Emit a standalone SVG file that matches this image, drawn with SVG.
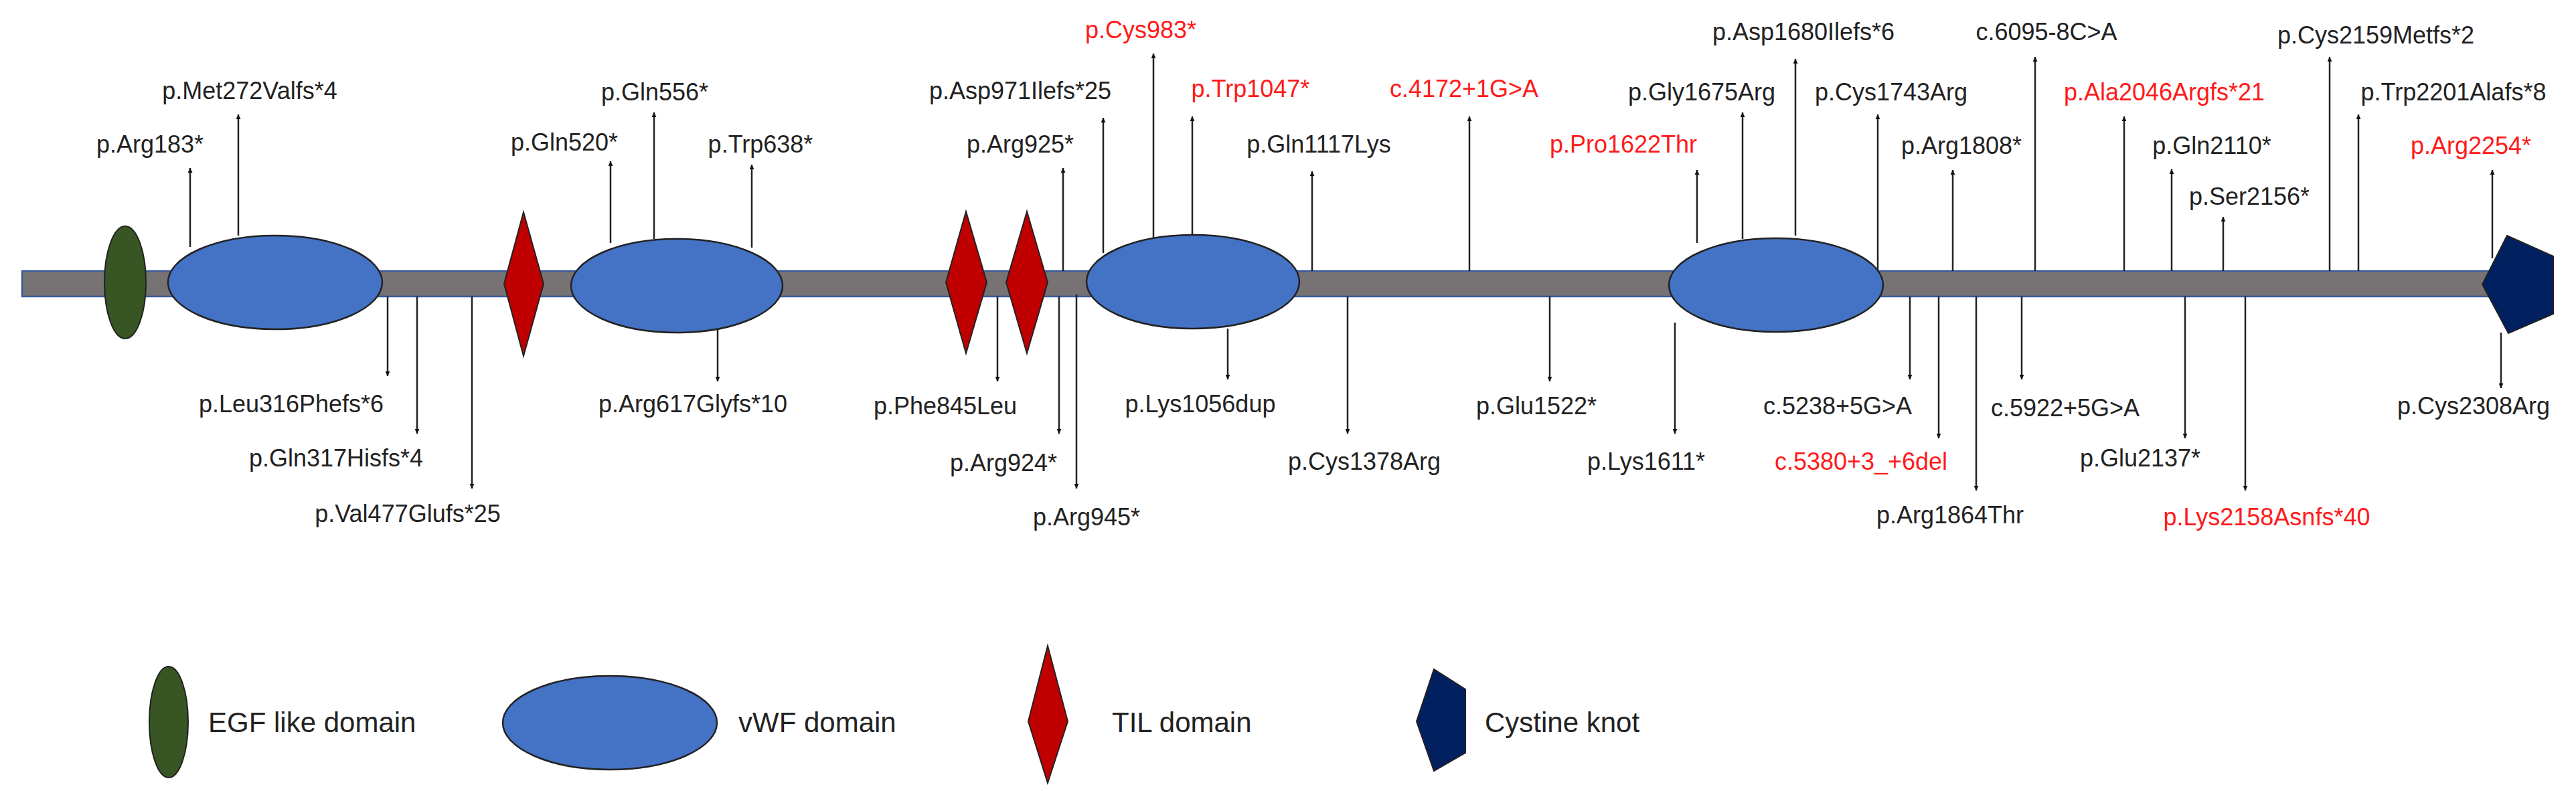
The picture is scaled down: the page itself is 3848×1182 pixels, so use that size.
<svg xmlns="http://www.w3.org/2000/svg" width="3848" height="1182" viewBox="0 0 3848 1182">
<style>
text{font-family:"Liberation Sans",Arial,sans-serif;font-size:36px;fill:#222;text-anchor:middle}
.r{fill:#ff1a1a}
.lg{font-size:42px;text-anchor:start}
.c line{stroke:#222;stroke-width:2.5;marker-end:url(#a)}
.egf{fill:#375623;stroke:#222;stroke-width:2}
.vwf{fill:#4472c4;stroke:#222;stroke-width:2.5}
.til{fill:#c00000;stroke:#222;stroke-width:2}
.ck{fill:#002060;stroke:#222;stroke-width:2}
</style>
<defs><marker id="a" viewBox="0 0 10 10" refX="10" refY="5" markerWidth="7" markerHeight="7" markerUnits="userSpaceOnUse" orient="auto"><path d="M0,0L10,5L0,10z" fill="#111"/></marker></defs>
<marker id="b"/>
<g id="bar"><rect x="33" y="405" width="3700" height="38" fill="#777374" stroke="#3a5a99" stroke-width="2.5"/></g>
<g class="c" id="connectors">
<line x1="284" y1="369" x2="284" y2="251"/>
<line x1="356" y1="352" x2="356" y2="171"/>
<line x1="912" y1="363" x2="912" y2="241"/>
<line x1="977" y1="357" x2="977" y2="168"/>
<line x1="1123" y1="370" x2="1123" y2="246"/>
<line x1="579" y1="443" x2="579" y2="562"/>
<line x1="623" y1="443" x2="623" y2="648"/>
<line x1="705" y1="443" x2="705" y2="730"/>
<line x1="1072" y1="492" x2="1072" y2="570"/>
<line x1="1588" y1="405" x2="1588" y2="251"/>
<line x1="1648" y1="378" x2="1648" y2="176"/>
<line x1="1723" y1="357" x2="1723" y2="80"/>
<line x1="1781" y1="351" x2="1781" y2="174"/>
<line x1="1960" y1="405" x2="1960" y2="256"/>
<line x1="2195" y1="405" x2="2195" y2="174"/>
<line x1="2535" y1="363" x2="2535" y2="254"/>
<line x1="1490" y1="443" x2="1490" y2="570"/>
<line x1="1582" y1="443" x2="1582" y2="648"/>
<line x1="1608" y1="440" x2="1608" y2="730"/>
<line x1="1834" y1="491" x2="1834" y2="567"/>
<line x1="2013" y1="443" x2="2013" y2="648"/>
<line x1="2315" y1="443" x2="2315" y2="570"/>
<line x1="2502" y1="482" x2="2502" y2="648"/>
<line x1="2603" y1="357" x2="2603" y2="168"/>
<line x1="2682" y1="352" x2="2682" y2="88"/>
<line x1="2805" y1="404" x2="2805" y2="171"/>
<line x1="2917" y1="405" x2="2917" y2="254"/>
<line x1="3040" y1="405" x2="3040" y2="85"/>
<line x1="3173" y1="405" x2="3173" y2="174"/>
<line x1="3244" y1="405" x2="3244" y2="253"/>
<line x1="3321" y1="405" x2="3321" y2="324"/>
<line x1="3480" y1="405" x2="3480" y2="85"/>
<line x1="3523" y1="405" x2="3523" y2="171"/>
<line x1="3723" y1="386" x2="3723" y2="254"/>
<line x1="2853" y1="443" x2="2853" y2="567"/>
<line x1="2896" y1="443" x2="2896" y2="655"/>
<line x1="2952" y1="443" x2="2952" y2="733"/>
<line x1="3020" y1="443" x2="3020" y2="567"/>
<line x1="3264" y1="443" x2="3264" y2="655"/>
<line x1="3354" y1="443" x2="3354" y2="733"/>
<line x1="3736" y1="497" x2="3736" y2="580"/>
</g>
<g id="egf1"><ellipse class="egf" cx="187" cy="422" rx="31" ry="84"/></g>
<g id="vwf1"><ellipse class="vwf" cx="411" cy="422" rx="160" ry="70"/></g>
<g id="til1"><polygon class="til" points="782,317 812,424 782,532 753,424"/></g>
<g id="vwf2"><ellipse class="vwf" cx="1011" cy="427" rx="158" ry="70"/></g>
<g id="til2"><polygon class="til" points="1443,316 1474,422 1443,528 1413,422"/></g>
<g id="til3"><polygon class="til" points="1534,316 1565,422 1534,528 1503,422"/></g>
<g id="vwf3"><ellipse class="vwf" cx="1782" cy="421" rx="159" ry="70"/></g>
<g id="vwf4"><ellipse class="vwf" cx="2653" cy="426" rx="160" ry="70"/></g>
<g id="ck1"><polygon class="ck" points="3708,425 3745,352 3814,383 3814,469 3747,498"/></g>
<g id="labels">
<text x="224" y="228">p.Arg183*</text>
<text x="373" y="148">p.Met272Valfs*4</text>
<text x="843" y="225">p.Gln520*</text>
<text x="978" y="150">p.Gln556*</text>
<text x="1136" y="228">p.Trp638*</text>
<text x="435" y="616">p.Leu316Phefs*6</text>
<text x="502" y="697">p.Gln317Hisfs*4</text>
<text x="609" y="780">p.Val477Glufs*25</text>
<text x="1035" y="616">p.Arg617Glyfs*10</text>
<text x="1524" y="228">p.Arg925*</text>
<text x="1524" y="148">p.Asp971Ilefs*25</text>
<text class="r" x="1704" y="57">p.Cys983*</text>
<text class="r" x="1868" y="145">p.Trp1047*</text>
<text x="1970" y="228">p.Gln1117Lys</text>
<text class="r" x="2187" y="145">c.4172+1G&gt;A</text>
<text class="r" x="2425" y="228">p.Pro1622Thr</text>
<text x="1412" y="619">p.Phe845Leu</text>
<text x="1499" y="704">p.Arg924*</text>
<text x="1623" y="785">p.Arg945*</text>
<text x="1793" y="616">p.Lys1056dup</text>
<text x="2038" y="702">p.Cys1378Arg</text>
<text x="2295" y="619">p.Glu1522*</text>
<text x="2459" y="702">p.Lys1611*</text>
<text x="2542" y="150">p.Gly1675Arg</text>
<text x="2694" y="60">p.Asp1680Ilefs*6</text>
<text x="2825" y="150">p.Cys1743Arg</text>
<text x="2930" y="230">p.Arg1808*</text>
<text x="3057" y="60">c.6095-8C&gt;A</text>
<text class="r" x="3233" y="150">p.Ala2046Argfs*21</text>
<text x="3304" y="230">p.Gln2110*</text>
<text x="3360" y="306">p.Ser2156*</text>
<text x="3549" y="65">p.Cys2159Metfs*2</text>
<text x="3665" y="150">p.Trp2201Alafs*8</text>
<text class="r" x="3691" y="230">p.Arg2254*</text>
<text x="2745" y="619">c.5238+5G&gt;A</text>
<text class="r" x="2780" y="702">c.5380+3_+6del</text>
<text x="2913" y="782">p.Arg1864Thr</text>
<text x="3085" y="622">c.5922+5G&gt;A</text>
<text x="3197" y="697">p.Glu2137*</text>
<text class="r" x="3386" y="785">p.Lys2158Asnfs*40</text>
<text x="3695" y="619">p.Cys2308Arg</text>
</g>
<g id="legend">
<ellipse class="egf" cx="252" cy="1079" rx="29" ry="83"/>
<text class="lg" x="311" y="1094">EGF like domain</text>
<ellipse class="vwf" cx="911" cy="1080" rx="160" ry="70"/>
<text class="lg" x="1103" y="1094">vWF domain</text>
<polygon class="til" points="1565,965 1595,1078 1565,1170 1536,1078"/>
<text class="lg" x="1661" y="1094">TIL domain</text>
<polygon class="ck" points="2116,1078 2142,1000 2189,1030 2189,1125 2142,1152"/>
<text class="lg" x="2218" y="1094">Cystine knot</text>
</g>
</svg>
